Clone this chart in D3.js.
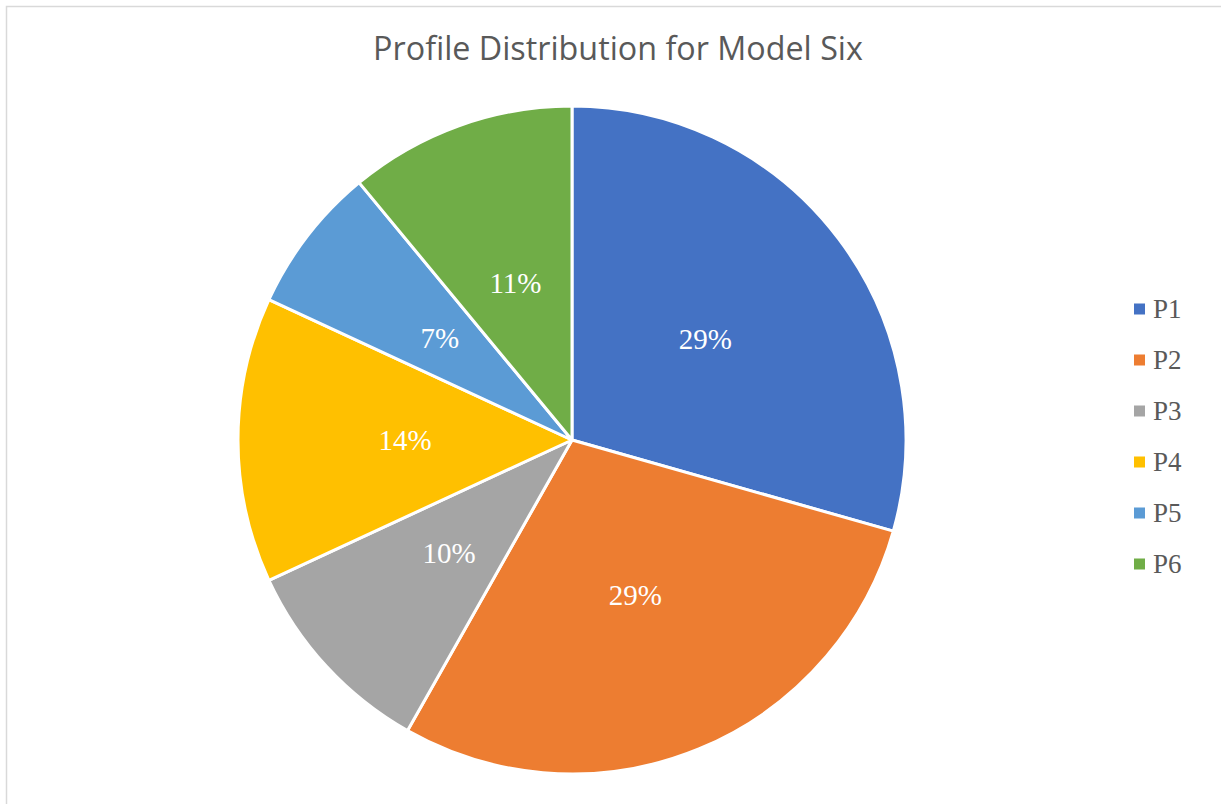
<!DOCTYPE html>
<html>
<head>
<meta charset="utf-8">
<script src="https://cdn.jsdelivr.net/npm/d3@7"></script>
<style>
  html, body { margin: 0; padding: 0; background: #fff; }
  svg { display: block; }
  .serif { font-family: "Liberation Serif", "Tinos", "Times New Roman", "DejaVu Serif", serif; }
</style>
</head>
<body>
<div id="chart"></div>
<script>
// values (percent of total)
var profiles = ["P1", "P2", "P3", "P4", "P5", "P6"];
var shares = [29.4, 28.8, 9.9, 13.8, 7.1, 11.0];
var colors = ["#4472C4", "#ED7D31", "#A5A5A5", "#FFC000", "#5B9BD5", "#70AD47"];
var title = "Profile Distribution for Model Six";

var width = 1221, height = 804;
var cx = 572, cy = 440, radius = 334;

var svg = d3.select("#chart")
    .append("svg")
    .attr("width", width)
    .attr("height", height);

// chart area frame
svg.append("rect")
    .attr("x", 6.5)
    .attr("y", 6.5)
    .attr("width", width + 20)
    .attr("height", height + 20)
    .style("fill", "#fff")
    .style("stroke", "#d9d9d9")
    .style("stroke-width", 1.5);

var data = profiles.map(function(p, i) {
    return { name: p, value: shares[i], color: colors[i] };
});

var pie = d3.pie()
    .sort(null)
    .value(function(d) { return d.value; });

var arc = d3.arc()
    .innerRadius(0)
    .outerRadius(radius);

var pieGroup = svg.append("g")
    .attr("transform", "translate(" + cx + "," + cy + ")");

var arcs = pie(data);

pieGroup.selectAll("path.slice")
    .data(arcs)
    .enter()
    .append("path")
    .attr("class", "slice")
    .attr("d", arc)
    .style("fill", function(d) { return d.data.color; })
    .style("stroke", "#fff")
    .style("stroke-width", 3)
    .style("stroke-linejoin", "round");

var total = d3.sum(shares);

pieGroup.selectAll("text.pct")
    .data(arcs)
    .enter()
    .append("text")
    .attr("class", "pct serif")
    .attr("transform", function(d) {
        var c = arc.centroid(d);
        return "translate(" + c[0] + "," + c[1] + ")";
    })
    .attr("text-anchor", "middle")
    .attr("dy", "0.35em")
    .style("font-size", "29px")
    .style("fill", "#fff")
    .text(function(d) { return Math.round(d.data.value / total * 100) + "%"; });

// title, sized to the reference width
var titleText = svg.append("text")
    .attr("x", 618)
    .attr("y", 60)
    .attr("text-anchor", "middle")
    .style("font-family", "'Open Sans', 'Noto Sans', sans-serif")
    .style("font-size", "28px")
    .style("fill", "#595959")
    .text(title);
var tw = titleText.node().getComputedTextLength();
titleText.style("font-size", (28 * 490 / tw) + "px");

// legend
var legendY = d3.scalePoint()
    .domain(profiles)
    .range([309, 564]);

var legend = svg.selectAll("g.legend")
    .data(data)
    .enter()
    .append("g")
    .attr("class", "legend")
    .attr("transform", function(d) { return "translate(1134," + legendY(d.name) + ")"; });

legend.append("rect")
    .attr("x", 0)
    .attr("y", -5.5)
    .attr("width", 11)
    .attr("height", 11)
    .style("fill", function(d) { return d.color; });

legend.append("text")
    .attr("class", "serif")
    .attr("x", 19)
    .attr("y", 0)
    .attr("dy", "0.35em")
    .style("font-size", "27px")
    .style("fill", "#595959")
    .text(function(d) { return d.name; });
</script>
</body>
</html>
